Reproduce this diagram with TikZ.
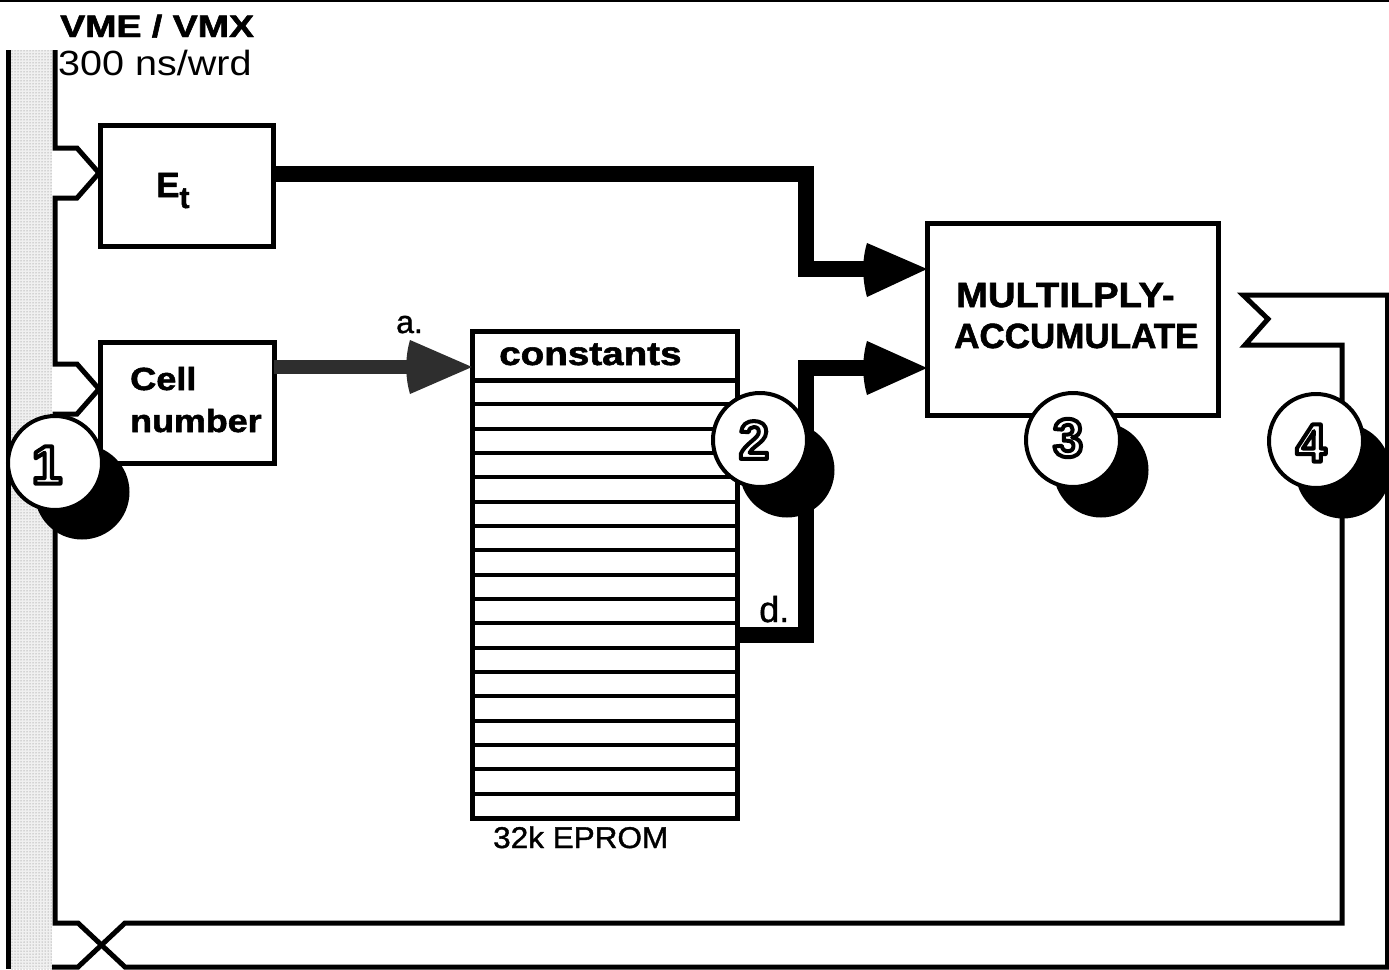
\documentclass[tikz,border=0pt]{standalone}
\usepackage{fontspec}
\setmainfont{Liberation Sans}[BoldFeatures={FakeBold=1.6}]
\newfontfamily\medfont[FakeBold=1.2]{Liberation Sans}
\newfontfamily\digfont{Liberation Sans Bold}
\usepackage{graphicx}
\usetikzlibrary{patterns,calc}

\newcommand\odig[1]{\special{pdf:literal direct 1 Tr 4 w 1 j 0 G}#1\special{pdf:literal direct 0 Tr}}

\tikzset{
  busline/.style={line width=5pt, line join=miter},
  blockbox/.style={draw, line width=5pt, rectangle, inner sep=0pt, outer sep=0pt, fill=white},
  fatline/.style={line width=16pt, line join=miter},
  greyline/.style={line width=14pt, draw=black!82},
  rowline/.style={line width=4pt},
  disc/.style={circle, draw, line width=4pt, fill=white, minimum size=94pt, inner sep=0pt},
  shadowdisc/.style={circle, fill=black, minimum size=95pt, inner sep=0pt},
  digit/.style={inner sep=0pt, font=\digfont\fontsize{54}{54}\selectfont},
  lbl/.style={inner sep=0pt, anchor=base west},
}

\begin{document}
\begin{tikzpicture}[x=1pt,y=-1pt]
\useasboundingbox (0,0) rectangle (1389,969);

% stippled bus
\fill[black!6] (10,50) rectangle (52,969);
\fill[pattern=dots, pattern color=black!55] (10,50) rectangle (52,969);

% top edge line
\draw[line width=2.5pt] (0,1) -- (1389,1);

% bus lines
\draw[busline] (8,50) -- (8,969);
\draw[busline] (55,50) -- (55,148) -- (77,148) -- (99,173) -- (77,198) -- (55,198)
  -- (55,364) -- (77,364) -- (99,389) -- (77,414) -- (55,414) -- (55,923)
  -- (78,923) -- (125,967) -- (1389,967);
\draw[busline] (52,967) -- (78,967) -- (125,923) -- (1342,923) -- (1342,345)
  -- (1245,345) -- (1268,319) -- (1243,295) -- (1389,295);
\draw[busline] (1387,295) -- (1387,969);

% boxes
\node[blockbox, minimum width=173pt, minimum height=121pt] (Et) at (186.5,185.5) {};
\node[blockbox, minimum width=174pt, minimum height=121pt] (Cell) at (187,402.5) {};
\node[blockbox, minimum width=265pt, minimum height=487pt] (EPROM) at (604.5,574.5) {};
\node[blockbox, minimum width=291pt, minimum height=192pt] (MAC) at (1072.5,319) {};

% EPROM rows
\draw[busline] (472,380) -- (737,380);
\foreach \k in {1,...,17}{
  \pgfmathsetmacro\yy{380+24.33*\k}
  \draw[rowline] (472,\yy) -- (737,\yy);
}

% texts
\node[lbl] (vme) at (60,37) {\fontsize{31}{31}\selectfont\bfseries\scalebox{1.21}[1]{VME / VMX}};
\node[lbl] (rate) at (58,75) {\fontsize{35}{35}\selectfont\scalebox{1.13}[1]{300 ns/wrd}};
\node[lbl] (ettxt) at (156,197) {\fontsize{35}{35}\selectfont\bfseries E\raisebox{-11pt}{\fontsize{30}{30}\selectfont\bfseries t}};
\node[lbl] (celltxt) at (130,390) {\fontsize{32}{32}\selectfont\bfseries\scalebox{1.13}[1]{Cell}};
\node[lbl] (numtxt) at (130,432) {\fontsize{32}{32}\selectfont\bfseries\scalebox{1.12}[1]{number}};
\node[lbl] (consttxt) at (499,365) {\fontsize{33}{33}\selectfont\bfseries\scalebox{1.17}[1]{constants}};
\node[lbl] (mac1) at (956,307) {\fontsize{35}{35}\selectfont\bfseries\scalebox{1.09}[1]{MULTILPLY-}};
\node[lbl] (mac2) at (954,348) {\fontsize{35}{35}\selectfont\bfseries ACCUMULATE};
\node[lbl] (eprtxt) at (493,848) {\medfont\fontsize{30}{30}\selectfont\scalebox{1.05}[1]{32k EPROM}};
\node[lbl] (atxt) at (396,333) {\medfont\fontsize{32}{32}\selectfont a.};
\node[lbl] (dtxt) at (759,622) {\medfont\fontsize{36}{36}\selectfont d.};

% connectors
\draw[fatline] (Et.east |- 0,174) -- (806,174) -- (806,269) -- (868,269);
\coordinate (tipA) at (MAC.west |- 0,269);
\fill[shift={(tipA)}] (0,0) -- (-60,-26) .. controls (-65,-10) and (-65,10) .. (-60,28) -- cycle;

\draw[fatline] (EPROM.east |- 0,635) -- (806,635) -- (806,368) -- (868,368);
\coordinate (tipB) at (MAC.west |- 0,368);
\fill[shift={(tipB)}] (0,0) -- (-60,-27) .. controls (-65,-10) and (-65,10) .. (-60,27) -- cycle;

\draw[greyline] (Cell.east |- 0,367) -- (410,367);
\coordinate (tipC) at (EPROM.west |- 0,367);
\fill[black!82, shift={(tipC)}] (0,0) -- (-62,-27) .. controls (-67,-10) and (-67,10) .. (-62,27) -- cycle;

% numbered discs with shadows
\node[shadowdisc] (s1) at (82,492) {};
\node[disc] (c1) at (55,463) {};
\node[digit] (d1) at (47,465) {\odig{1}};

\node[shadowdisc] (s2) at (787,470) {};
\node[disc] (c2) at (760,440) {};
\node[digit] (d2) at (754,440) {\odig{2}};

\node[shadowdisc] (s3) at (1101,470) {};
\node[disc] (c3) at (1073,440) {};
\node[digit] (d3) at (1068,438) {\odig{3}};

\node[shadowdisc] (s4) at (1343,471) {};
\node[disc] (c4) at (1316,441) {};
\node[digit] (d4) at (1311,443) {\odig{4}};
\end{tikzpicture}
\end{document}
